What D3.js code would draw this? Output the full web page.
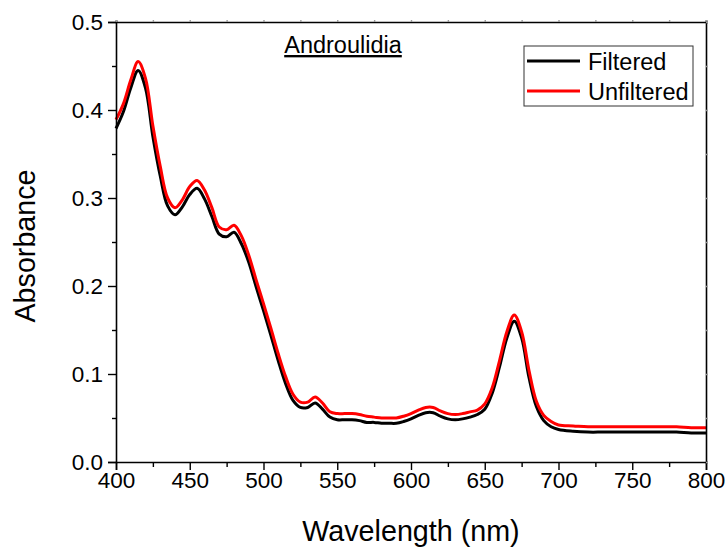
<!DOCTYPE html>
<html>
<head>
<meta charset="utf-8">
<script src="https://cdn.jsdelivr.net/npm/d3@7"></script>
<style>
  body { margin: 0; background: #fff; }
  svg { font-family: "Liberation Sans", Arial, sans-serif; }
</style>
</head>
<body>
<svg id="chart" width="727" height="552"></svg>
<script>
// wavelengths (nm): 5 nm steps to 700, then 10 nm steps
const wavelengths = [
  400,405,410,415,420,425,430,435,440,445,450,455,460,465,470,475,480,485,490,495,
  500,505,510,515,520,525,530,535,540,545,550,555,560,565,570,575,580,585,590,595,
  600,605,610,615,620,625,630,635,640,645,650,655,660,665,670,675,680,685,690,695,
  700,710,720,730,740,750,760,770,780,790,800
]

const filtered = [
  0.379,0.398,0.425,0.445,0.425,0.370,0.325,0.291,0.281,0.290,0.304,0.311,0.299,0.279,0.259,0.256,0.261,0.248,0.227,0.199,
  0.172,0.144,0.115,0.089,0.070,0.062,0.062,0.067,0.060,0.051,0.048,0.048,0.048,0.047,0.045,0.045,0.044,0.044,0.044,0.046,
  0.049,0.053,0.056,0.056,0.052,0.049,0.048,0.049,0.051,0.054,0.060,0.078,0.108,0.141,0.160,0.141,0.096,0.063,0.047,0.040,
  0.037,0.035,0.034,0.034,0.034,0.034,0.034,0.034,0.034,0.033,0.033
]

const unfiltered = [
  0.389,0.407,0.434,0.455,0.436,0.382,0.336,0.300,0.289,0.298,0.313,0.320,0.309,0.289,0.267,0.264,0.269,0.257,0.235,0.207,
  0.180,0.152,0.123,0.097,0.077,0.068,0.068,0.074,0.067,0.057,0.055,0.055,0.055,0.054,0.052,0.051,0.050,0.050,0.050,0.052,
  0.055,0.059,0.062,0.062,0.058,0.055,0.054,0.055,0.057,0.059,0.066,0.084,0.115,0.148,0.167,0.148,0.104,0.069,0.053,0.046,
  0.042,0.041,0.040,0.040,0.040,0.040,0.040,0.040,0.040,0.039,0.039
]

const xTicks = [400,450,500,550,600,650,700,750,800]
const yTicks = [0.0,0.1,0.2,0.3,0.4,0.5]

const margin = {top: 22, right: 21, bottom: 90, left: 116}
const width = 727, height = 552

const svg = d3.select('#chart')

const x = d3.scaleLinear().domain([400, 800]).range([margin.left, width - margin.right])
const y = d3.scaleLinear().domain([0, 0.5]).range([height - margin.bottom, margin.top])

// curves
const line = d3.line()
  .x(d => x(d[0]))
  .y(d => y(d[1]))
  .curve(d3.curveCatmullRom.alpha(0.5))

const series = [
  {name: 'Filtered', color: '#000000', values: filtered},
  {name: 'Unfiltered', color: '#ff0000', values: unfiltered}
]

svg.append('g')
  .selectAll('path')
  .data(series)
  .join('path')
    .attr('fill', 'none')
    .attr('stroke', d => d.color)
    .attr('stroke-width', 3)
    .attr('stroke-linejoin', 'round')
    .attr('d', d => line(wavelengths.map((w, i) => [w, d.values[i]])))

// bottom axis, major + minor
const xAxis = svg.append('g')
  .attr('transform', 'translate(0,' + y(0) + ')')
  .call(d3.axisBottom(x).tickValues(xTicks).tickSize(8).tickPadding(2).tickFormat(d3.format('d')))
xAxis.append('g')
  .call(d3.axisBottom(x).tickValues(d3.range(425, 800, 50)).tickSize(5).tickFormat(''))
  .select('.domain').remove()

// left axis
const yAxis = svg.append('g')
  .attr('transform', 'translate(' + x(400) + ',0)')
  .call(d3.axisLeft(y).tickValues(yTicks).tickSize(8).tickPadding(5).tickFormat(d3.format('.1f')))
yAxis.append('g')
  .call(d3.axisLeft(y).tickValues(d3.range(0.05, 0.5, 0.1)).tickSize(4).tickFormat(''))
  .select('.domain').remove()

// top & right frame with faint ticks
const topAxis = svg.append('g')
  .attr('transform', 'translate(0,' + y(0.5) + ')')
  .call(d3.axisTop(x).tickValues(d3.range(400, 801, 25)).tickSize(2).tickFormat(''))
topAxis.selectAll('.tick line').attr('stroke', '#999')
const rightAxis = svg.append('g')
  .attr('transform', 'translate(' + x(800) + ',0)')
  .call(d3.axisRight(y).tickValues(d3.range(0, 0.501, 0.05)).tickSize(2).tickFormat(''))
rightAxis.selectAll('.tick line').attr('stroke', '#999')

svg.selectAll('.domain').attr('stroke', '#000').attr('stroke-width', 1.6)
svg.selectAll('.tick line').attr('stroke-width', 1.4)
svg.selectAll('.tick text').attr('font-size', 22.5).attr('fill', '#000')
  .attr('font-family', '"Liberation Sans", Arial, sans-serif')

// axis titles
svg.append('text')
  .attr('x', x(600))
  .attr('y', 541)
  .attr('text-anchor', 'middle')
  .attr('font-size', 28.7)
  .text('Wavelength (nm)')

svg.append('text')
  .attr('transform', 'translate(35,246) rotate(-90)')
  .attr('text-anchor', 'middle')
  .attr('font-size', 28.7)
  .text('Absorbance')

// panel title
svg.append('text')
  .attr('x', 343)
  .attr('y', 53)
  .attr('text-anchor', 'middle')
  .attr('font-size', 23.5)
  .attr('text-decoration', 'underline')
  .text('Androulidia')

// legend
const legend = svg.append('g').attr('transform', 'translate(524,46)')
legend.append('rect')
  .attr('width', 169).attr('height', 60)
  .attr('fill', '#fff').attr('stroke', '#333').attr('stroke-width', 1)

const item = legend.selectAll('g.item')
  .data(series)
  .join('g')
    .attr('class', 'item')
    .attr('transform', (d, i) => 'translate(0,' + (15 + i * 30) + ')')
item.append('line')
  .attr('x1', 3).attr('x2', 56)
  .attr('stroke', d => d.color).attr('stroke-width', 3)
item.append('text')
  .attr('x', 64).attr('y', 9)
  .attr('font-size', 23.5)
  .text(d => d.name)
</script>
</body>
</html>
